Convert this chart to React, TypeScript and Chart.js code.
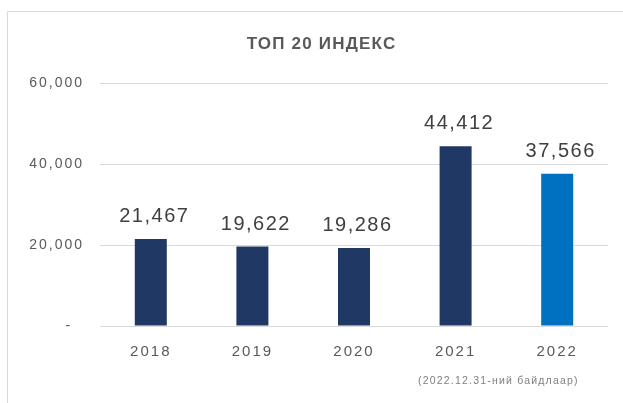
import React, { useEffect, useRef } from "react";
import { Chart, registerables } from "chart.js";

Chart.register(...registerables);

const categories = ["2018", "2019", "2020", "2021", "2022"];
const values = [21467, 19622, 19286, 44412, 37566];
const barColors = ["#203864", "#203864", "#203864", "#203864", "#0070C0"];
const yTicks = [0, 20000, 40000, 60000];
const titleText = "ТОП 20 ИНДЕКС";
const footnoteText = "(2022.12.31-ний байдлаар)";

const FONT = "'Liberation Sans', Arial, sans-serif";

const fmt = (v: number) => v.toLocaleString("en-US");

const decorPlugin = {
  id: "decor",
  beforeDraw(chart: any) {
    const ctx = chart.ctx;
    ctx.save();
    ctx.fillStyle = "#ffffff";
    ctx.fillRect(0, 0, chart.width, chart.height);
    // frame
    ctx.strokeStyle = "#d9d9d9";
    ctx.lineWidth = 1;
    ctx.beginPath();
    ctx.moveTo(7.5, chart.height);
    ctx.lineTo(7.5, 11.5);
    ctx.lineTo(chart.width, 11.5);
    ctx.stroke();
    // title
    (ctx as any).letterSpacing = "1.2px";
    ctx.fillStyle = "#595959";
    ctx.font = `bold 17px ${FONT}`;
    ctx.textAlign = "center";
    ctx.textBaseline = "alphabetic";
    ctx.fillText(titleText, 321.5, 49);
    // footnote
    (ctx as any).letterSpacing = "1.2px";
    ctx.font = `10.5px ${FONT}`;
    ctx.fillStyle = "#7f7f7f";
    ctx.textAlign = "left";
    ctx.fillText(footnoteText, 418, 384);
    ctx.restore();
    (ctx as any).letterSpacing = "2px";
  },
  afterDatasetsDraw(chart: any) {
    const ctx = chart.ctx;
    const meta = chart.getDatasetMeta(0);
    ctx.save();
    (ctx as any).letterSpacing = "1.5px";
    ctx.font = `20px ${FONT}`;
    ctx.fillStyle = "#404040";
    ctx.textAlign = "center";
    ctx.textBaseline = "alphabetic";
    meta.data.forEach((bar: any, i: number) => {
      ctx.fillText(fmt(values[i]), bar.x + 3.5, bar.y - 17);
    });
    ctx.restore();
  },
};

export default function App() {
  const ref = useRef<HTMLCanvasElement>(null);
  useEffect(() => {
    if (!ref.current) return;
    const chart = new Chart(ref.current, {
      type: "bar",
      data: {
        labels: categories,
        datasets: [
          {
            data: values,
            backgroundColor: barColors,
            borderWidth: 0,
            barPercentage: 0.315,
            categoryPercentage: 1,
          },
        ],
      },
      options: {
        animation: false,
        responsive: false,
        devicePixelRatio: 1,
        layout: { padding: { top: 83, left: 0, right: 15, bottom: 0 } },
        plugins: {
          legend: { display: false },
          tooltip: { enabled: false },
          title: { display: false },
        },
        scales: {
          x: {
            grid: { display: false },
            border: { display: false },
            ticks: {
              color: "#595959",
              font: { family: FONT, size: 15 },
              padding: 9,
              maxRotation: 0,
            },
            afterFit(scale: any) {
              scale.height = 77;
            },
          },
          y: {
            min: 0,
            max: 60000,
            afterBuildTicks(scale: any) {
              scale.ticks = yTicks.map((v) => ({ value: v }));
            },
            grid: { color: "#d9d9d9", drawTicks: false, lineWidth: 1 },
            border: { display: false },
            ticks: {
              color: "#595959",
              font: { family: FONT, size: 14 },
              padding: 16,
              callback: (v: any) => (Number(v) === 0 ? "-  " : fmt(Number(v))),
            },
            afterFit(scale: any) {
              scale.width = 100;
            },
          },
        },
      },
      plugins: [decorPlugin],
    });
    return () => chart.destroy();
  }, []);
  return (
    <div style={{ position: "absolute", left: 0, top: 0, width: 623, height: 403 }}>
      <canvas ref={ref} width={623} height={403} />
    </div>
  );
}
